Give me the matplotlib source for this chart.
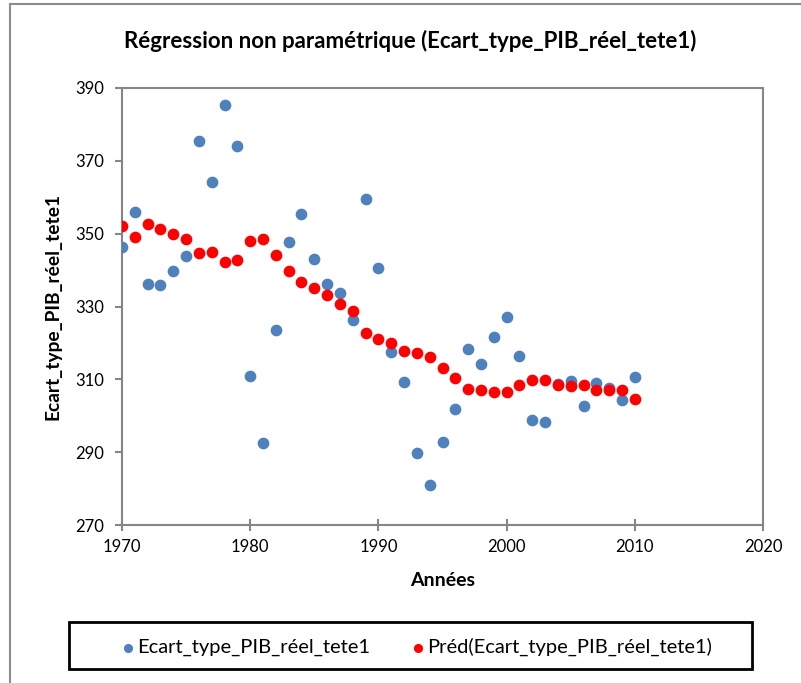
import numpy as np
import matplotlib.pyplot as plt
from matplotlib.patches import Rectangle

plt.rcParams['font.family'] = ['Lato', 'DejaVu Sans']

# Data
years = np.arange(1970, 2011)
observed = [346.4, 355.9, 336.1, 335.8, 339.8, 343.8, 375.5, 364.3, 385.3, 374.2,
            310.9, 292.5, 323.6, 347.6, 355.4, 343.1, 336.2, 333.8, 326.3, 359.5,
            340.7, 317.6, 309.4, 289.8, 281.0, 292.9, 301.9, 318.2, 314.1, 321.7,
            327.2, 316.5, 298.8, 298.4, 308.8, 309.6, 302.6, 309.1, 307.6, 304.4,
            310.6]
predicted = [352.2, 349.1, 352.7, 351.4, 349.8, 348.4, 344.7, 344.9, 342.3, 342.7,
             347.9, 348.6, 344.1, 339.8, 336.7, 335.2, 333.2, 330.8, 328.7, 322.6,
             321.1, 319.9, 317.8, 317.3, 316.1, 313.0, 310.5, 307.4, 307.1, 306.4,
             306.6, 308.5, 309.9, 309.7, 308.5, 308.2, 308.4, 307.2, 307.0, 307.1,
             304.5]
series_names = ['Ecart_type_PIB_réel_tete1', 'Préd(Ecart_type_PIB_réel_tete1)']

W, H = 801, 683
fig = plt.figure(figsize=(W / 100, H / 100), dpi=100)

# outer chart border (cropped on the right and bottom)
fig.patches.append(Rectangle((10 / W, -0.05), 1.2, 1 - 4 / H + 0.05,
                             transform=fig.transFigure, fill=False,
                             edgecolor='#8c8c8c', linewidth=1.5))

ax = fig.add_axes([122 / W, (H - 525) / H, 641 / W, 437 / H])
ax.scatter(years, observed, s=55, color='#4F81BD', zorder=3, label=series_names[0])
ax.scatter(years, predicted, s=55, color='#FF0000', zorder=4, label=series_names[1])

ax.set_xlim(1970, 2020)
ax.set_ylim(270, 390)
ax.set_xticks(np.arange(1970, 2021, 10))
ax.set_yticks(np.arange(270, 391, 20))
for sp in ax.spines.values():
    sp.set_color('#868686')
    sp.set_linewidth(1.5)
ax.tick_params(axis='y', direction='out', length=5, width=1.5, color='#868686',
               labelsize=12, pad=8)
ax.tick_params(axis='x', direction='inout', length=8, width=1.5, color='#868686',
               labelsize=12, pad=6)

ax.set_xlabel('Années', fontsize=14, fontweight='bold', labelpad=12)
ax.set_ylabel('Ecart_type_PIB_réel_tete1', fontsize=13.8, fontweight='bold', labelpad=10)
fig.text(410 / W, 1 - 41 / H, 'Régression non paramétrique (Ecart_type_PIB_réel_tete1)',
         ha='center', va='center', fontsize=16, fontweight='bold')

# legend box
fig.patches.append(Rectangle((69 / W, (H - 669) / H), 683 / W, 47 / H,
                             transform=fig.transFigure, fill=False,
                             edgecolor='black', linewidth=2))
fig.legend(loc='center', bbox_to_anchor=(416 / W, (H - 647) / H), ncol=2,
           frameon=False, fontsize=14.5, handlelength=0.8, handletextpad=0.05,
           columnspacing=1.95, markerscale=0.75, scatterpoints=1)

fig.savefig('out.png', dpi=100)
